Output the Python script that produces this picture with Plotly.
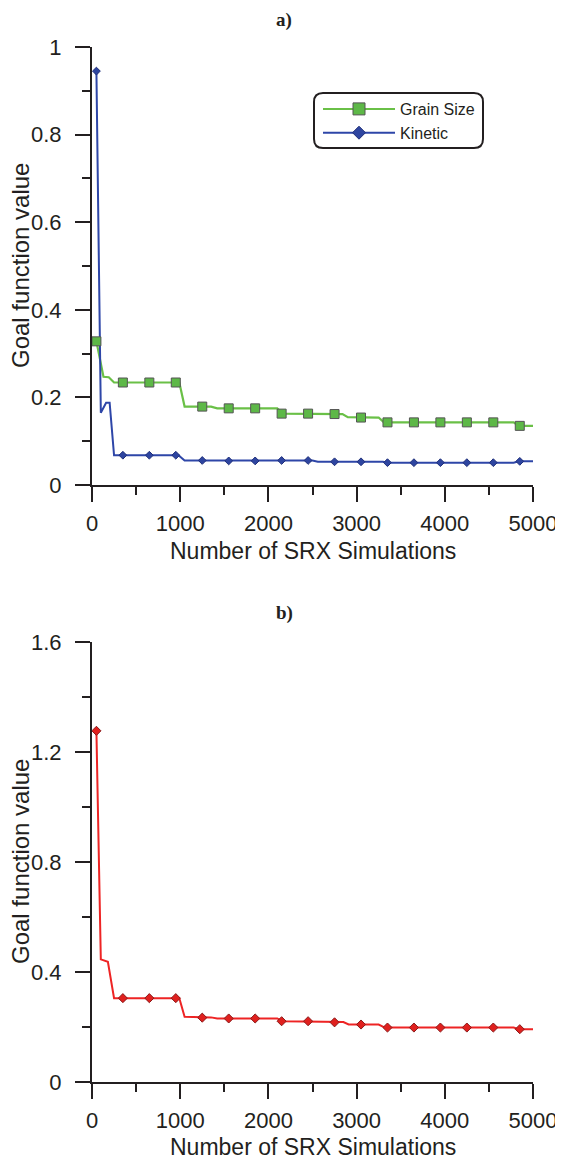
import plotly.graph_objects as go

# ---------------- data ----------------
# x positions of plotted markers (every 300 simulations)
marker_sims = [50, 350, 650, 950, 1250, 1550, 1850, 2150, 2450, 2750,
               3050, 3350, 3650, 3950, 4250, 4550, 4850]

# a) Grain Size : polyline vertices + marker values
grain_line_x = [50, 130, 190, 250, 990, 1050, 1350, 1420, 2100, 2160,
                2840, 2900, 3250, 3310, 4780, 4840, 5000]
grain_line_y = [0.328, 0.247, 0.246, 0.234, 0.234, 0.179, 0.179, 0.175, 0.175, 0.163,
                0.162, 0.155, 0.154, 0.143, 0.143, 0.135, 0.135]
grain_markers = [0.328, 0.234, 0.234, 0.234, 0.179, 0.175, 0.175, 0.163, 0.163, 0.162,
                 0.154, 0.143, 0.143, 0.143, 0.143, 0.143, 0.135]

# a) Kinetic
kin_line_x = [50, 100, 160, 200, 250, 980, 1050, 2500, 2560, 3300, 3350, 4780, 4840, 5000]
kin_line_y = [0.945, 0.165, 0.188, 0.188, 0.068, 0.068, 0.056, 0.056, 0.053, 0.053,
              0.051, 0.051, 0.054, 0.054]
kin_markers = [0.945, 0.068, 0.068, 0.068, 0.056, 0.055, 0.055, 0.056, 0.056, 0.053,
               0.053, 0.051, 0.051, 0.051, 0.051, 0.051, 0.054]

# b) combined
comb_line_x = [50, 100, 180, 250, 990, 1050, 1350, 1420, 2100, 2160,
               2850, 2910, 3250, 3320, 4780, 4840, 5000]
comb_line_y = [1.277, 0.446, 0.437, 0.305, 0.305, 0.237, 0.235, 0.231, 0.231, 0.221,
               0.218, 0.209, 0.209, 0.198, 0.198, 0.192, 0.192]
comb_markers = [1.277, 0.305, 0.305, 0.305, 0.234, 0.231, 0.231, 0.221, 0.221, 0.217,
                0.209, 0.198, 0.198, 0.198, 0.198, 0.198, 0.192]

x_ticks = [0, 1000, 2000, 3000, 4000, 5000]
y_ticks_a = [0, 0.2, 0.4, 0.6, 0.8, 1]
y_ticks_b = [0, 0.4, 0.8, 1.2, 1.6]

# ---------------- styling ----------------
# the page body has an 8px default margin, so the figure is drawn 8px smaller
OFF = 8
W, H = 563 - OFF, 1159 - OFF
AX = "#231F20"
FONT = "Liberation Sans, Arial, sans-serif"
GREEN_LINE, GREEN_FILL = "#6AC047", "#5DB847"
BLUE_LINE, BLUE_FILL = "#2E46A8", "#2E45A0"
RED_LINE, RED_FILL = "#EE2424", "#E0201E"

def px_x(p):
    return (p - OFF) / W

def px_y(p):
    return 1 - (p - OFF) / H

fig = go.Figure()

# ---- panel a ----
fig.add_trace(go.Scatter(x=grain_line_x, y=grain_line_y, mode="lines",
                         line=dict(color=GREEN_LINE, width=2.2), showlegend=False,
                         xaxis="x", yaxis="y", hoverinfo="skip"))
fig.add_trace(go.Scatter(x=kin_line_x, y=kin_line_y, mode="lines",
                         line=dict(color=BLUE_LINE, width=2), showlegend=False,
                         xaxis="x", yaxis="y", hoverinfo="skip"))
fig.add_trace(go.Scatter(x=marker_sims, y=grain_markers, mode="markers",
                         marker=dict(symbol="square", size=9, color=GREEN_FILL,
                                     line=dict(color="#555555", width=1)),
                         showlegend=False, xaxis="x", yaxis="y"))
fig.add_trace(go.Scatter(x=marker_sims, y=kin_markers, mode="markers",
                         marker=dict(symbol="diamond", size=6, color=BLUE_FILL,
                                     line=dict(color="#1F2F7A", width=1)),
                         showlegend=False, xaxis="x", yaxis="y"))
# legend-only entries
fig.add_trace(go.Scatter(x=[None], y=[None], mode="lines+markers", name="Grain Size",
                         line=dict(color=GREEN_LINE, width=2),
                         marker=dict(symbol="square", size=12, color=GREEN_FILL,
                                     line=dict(color="#555555", width=1)),
                         xaxis="x", yaxis="y"))
fig.add_trace(go.Scatter(x=[None], y=[None], mode="lines+markers", name="Kinetic",
                         line=dict(color=BLUE_LINE, width=2),
                         marker=dict(symbol="diamond", size=10, color=BLUE_FILL,
                                     line=dict(color="#1F2F7A", width=1)),
                         xaxis="x", yaxis="y"))

# ---- panel b ----
fig.add_trace(go.Scatter(x=comb_line_x, y=comb_line_y, mode="lines",
                         line=dict(color=RED_LINE, width=2), showlegend=False,
                         xaxis="x2", yaxis="y2", hoverinfo="skip"))
fig.add_trace(go.Scatter(x=marker_sims, y=comb_markers, mode="markers",
                         marker=dict(symbol="diamond", size=7, color=RED_FILL,
                                     line=dict(color="#8B1A1A", width=1)),
                         showlegend=False, xaxis="x2", yaxis="y2"))

x_dom = [px_x(92), px_x(533)]
dom_a = [px_y(485), px_y(47)]
dom_b = [px_y(1082), px_y(642)]

common_x = dict(range=[0, 5000], tickvals=x_ticks, showline=True, linewidth=2,
                linecolor=AX, ticks="outside", ticklen=15, tickwidth=2, tickcolor=AX,
                minor=dict(dtick=500, ticks="outside", ticklen=8, tickwidth=2, tickcolor=AX),
                showgrid=False, zeroline=False, automargin=False,
                tickfont=dict(family=FONT, size=22, color=AX), ticklabelstandoff=3)
common_y = dict(showline=True, linewidth=2, linecolor=AX, ticks="outside", ticklen=15,
                tickwidth=2, tickcolor=AX, showgrid=False, zeroline=False,
                automargin=False, tickfont=dict(family=FONT, size=22, color=AX),
                ticklabelstandoff=9)

fig.update_layout(
    width=W, height=H,
    margin=dict(l=0, r=0, t=0, b=0),
    paper_bgcolor="white", plot_bgcolor="white",
    xaxis=dict(domain=x_dom, anchor="y", **common_x),
    yaxis=dict(domain=dom_a, anchor="x", range=[0, 1], tickvals=y_ticks_a,
               ticktext=["0", "0.2", "0.4", "0.6", "0.8", "1"],
               minor=dict(dtick=0.1, ticks="outside", ticklen=8, tickwidth=2, tickcolor=AX),
               **common_y),
    xaxis2=dict(domain=x_dom, anchor="y2", **common_x),
    yaxis2=dict(domain=dom_b, anchor="x2", range=[0, 1.6], tickvals=y_ticks_b,
                ticktext=["0", "0.4", "0.8", "1.2", "1.6"],
                minor=dict(dtick=0.2, ticks="outside", ticklen=8, tickwidth=2, tickcolor=AX),
                **common_y),
    legend=dict(x=px_x(318), y=px_y(92), xanchor="left", yanchor="top",
                bgcolor="rgba(0,0,0,0)", borderwidth=0, itemwidth=72,
                font=dict(family=FONT, size=16, color=AX), tracegroupgap=0),
    showlegend=True,
)

# rounded legend frame
x0, x1 = px_x(314), px_x(483)
yt, yb = px_y(93), px_y(148)
rx, ry = 9 / W, 9 / H
path = (f"M {x0+rx},{yt} L {x1-rx},{yt} Q {x1},{yt} {x1},{yt-ry} "
        f"L {x1},{yb+ry} Q {x1},{yb} {x1-rx},{yb} L {x0+rx},{yb} "
        f"Q {x0},{yb} {x0},{yb+ry} L {x0},{yt-ry} Q {x0},{yt} {x0+rx},{yt} Z")
fig.add_shape(type="path", path=path, xref="paper", yref="paper",
              line=dict(color=AX, width=2), fillcolor="rgba(0,0,0,0)")

# titles and axis labels
SERIF = "Liberation Serif, Times New Roman, serif"
ann = []
ann.append(dict(text="<b>a)</b>", x=px_x(284), y=px_y(20), xref="paper", yref="paper",
                showarrow=False, xanchor="center", yanchor="middle",
                font=dict(family=SERIF, size=19, color=AX)))
ann.append(dict(text="<b>b)</b>", x=px_x(284), y=px_y(613), xref="paper", yref="paper",
                showarrow=False, xanchor="center", yanchor="middle",
                font=dict(family=SERIF, size=19, color=AX)))
for yc in (551, 1147):
    ann.append(dict(text="Number of SRX Simulations", x=px_x(313), y=px_y(yc),
                    xref="paper", yref="paper", showarrow=False,
                    xanchor="center", yanchor="middle",
                    font=dict(family=FONT, size=23, color=AX)))
for yc in (266, 862):
    ann.append(dict(text="Goal function value", x=px_x(20), y=px_y(yc),
                    xref="paper", yref="paper", showarrow=False, textangle=-90,
                    xanchor="center", yanchor="middle",
                    font=dict(family=FONT, size=24, color=AX)))
fig.update_layout(annotations=ann)

fig.write_html("out.html")
